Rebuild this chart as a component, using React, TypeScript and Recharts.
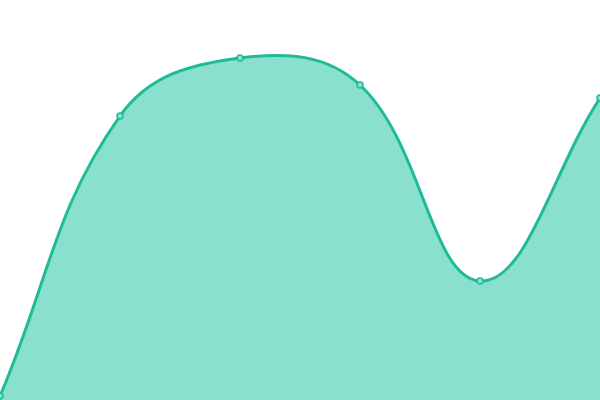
import React from "react";
import { AreaChart, Area, XAxis, YAxis } from "recharts";

const categories = ["A", "B", "C", "D", "E", "F"];
const values = [1, 71, 85.5, 78.75, 29.75, 75.5];

const data = categories.map((c, i) => ({ name: c, value: values[i] }));

// Spline curve (tension-based, Chart.js style) as a d3-compatible curve factory
const TENSION = 0.4;
function splineCurve(context: any) {
  let pts: [number, number][] = [];
  let line = NaN;
  return {
    areaStart() {
      line = 0;
    },
    areaEnd() {
      line = NaN;
    },
    lineStart() {
      pts = [];
    },
    lineEnd() {
      const n = pts.length;
      if (n) {
        const [x0, y0] = pts[0];
        if (line) context.lineTo(x0, y0);
        else context.moveTo(x0, y0);
        const cps = pts.map((cur, i) => {
          const prev = pts[i - 1] || cur;
          const next = pts[i + 1] || cur;
          const d01 = Math.hypot(cur[0] - prev[0], cur[1] - prev[1]);
          const d12 = Math.hypot(next[0] - cur[0], next[1] - cur[1]);
          let s01 = d01 / (d01 + d12);
          let s12 = d12 / (d01 + d12);
          if (isNaN(s01)) s01 = 0;
          if (isNaN(s12)) s12 = 0;
          const fa = TENSION * s01;
          const fb = TENSION * s12;
          return {
            prev: [cur[0] - fa * (next[0] - prev[0]), cur[1] - fa * (next[1] - prev[1])],
            next: [cur[0] + fb * (next[0] - prev[0]), cur[1] + fb * (next[1] - prev[1])],
          };
        });
        for (let i = 1; i < n; i++) {
          const a = cps[i - 1].next;
          const b = cps[i].prev;
          context.bezierCurveTo(a[0], a[1], b[0], b[1], pts[i][0], pts[i][1]);
        }
      }
      if (line || (line !== 0 && n === 1)) context.closePath();
      line = 1 - line;
    },
    point(x: number, y: number) {
      pts.push([+x, +y]);
    },
  };
}

export default function App() {
  return (
    <div style={{ position: "fixed", left: 0, top: 0, width: 600, height: 400, background: "#fff" }}>
      <AreaChart width={600} height={400} data={data} margin={{ top: 0, right: 0, bottom: 0, left: 0 }}>
        <XAxis dataKey="name" hide />
        <YAxis domain={[0, 100]} hide />
        <Area
          type={splineCurve as any}
          dataKey="value"
          stroke="#1fbb97"
          strokeWidth={3}
          fill="#89e0cf"
          fillOpacity={1}
          dot={{ r: 3, fill: "#89e0cf", stroke: "#1fbb97", strokeWidth: 1.5 }}
          activeDot={false}
          isAnimationActive={false}
        />
      </AreaChart>
    </div>
  );
}
